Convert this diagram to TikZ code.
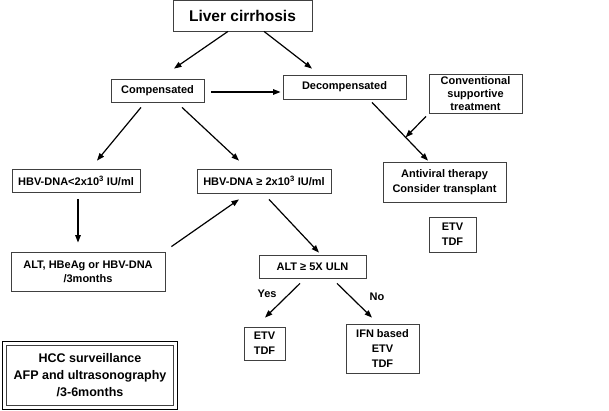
\documentclass[tikz,border=0pt]{standalone}
\usepackage{fontspec}
\setmainfont{Liberation Sans}
\usetikzlibrary{arrows.meta,calc}

\begin{document}
\begin{tikzpicture}[
  x=1pt,y=-1pt,
  >={Triangle[length=7.5pt,width=5.5pt]},
  box/.style = {draw=black!75,line width=0.8pt,align=center,inner sep=0pt,
    font=\bfseries\fontsize{11}{14}\selectfont},
  arr/.style = {->,line width=1.2pt},
  lbl/.style = {font=\bfseries\fontsize{11}{12}\selectfont}
  ]
  \useasboundingbox (0,0) rectangle (609,411);
  % Boxes
  \node[box,minimum width=139pt,minimum height=31pt,
    font=\bfseries\fontsize{15.5}{18}\selectfont] (liver) at (242.5,15.5) {Liver cirrhosis};
  \node[box,minimum width=93pt,minimum height=23pt] (comp) at (157.5,90.5) {Compensated};
  \node[box,minimum width=123pt,minimum height=24pt] (decomp) at (344.5,87) {Decompensated};
  \node[box,minimum width=93pt,minimum height=39pt,
    font=\bfseries\fontsize{11}{13}\selectfont] (conv) at (475.5,93.5) {Conventional\\supportive\\treatment};
  \node[box,minimum width=128pt,minimum height=23pt] (hbvlo) at (76,180.5) {HBV-DNA<2x10\textsuperscript{3} IU/ml};
  \node[box,minimum width=134pt,minimum height=24pt] (hbvhi) at (264,181) {HBV-DNA ≥ 2x10\textsuperscript{3} IU/ml};
  \node[box,minimum width=123pt,minimum height=40pt,
    font=\bfseries\fontsize{11}{15}\selectfont] (antiviral) at (444.5,182) {Antiviral therapy\\Consider transplant};
  \node[box,minimum width=47pt,minimum height=35pt,
    font=\bfseries\fontsize{11}{15}\selectfont] (drugsa) at (452.5,234.5) {ETV\\TDF};
  \node[box,minimum width=154pt,minimum height=39pt] (alt) at (88,271.5) {ALT, HBeAg or HBV-DNA\\/3months};
  \node[box,minimum width=107pt,minimum height=23pt] (altuln) at (312.5,266.5) {ALT ≥ 5X ULN};
  \node[box,minimum width=41pt,minimum height=33pt,
    font=\bfseries\fontsize{11}{15}\selectfont] (drugsb) at (264.5,343.5) {ETV\\TDF};
  \node[box,minimum width=73pt,minimum height=49pt,
    font=\bfseries\fontsize{11}{15}\selectfont] (ifn) at (382.5,348.5) {IFN based\\ETV\\TDF};
  \node[box,minimum width=166.4pt,minimum height=59.4pt,
    font=\bfseries\fontsize{12.5}{17}\selectfont] (hcc) at (90,375.5) {HCC surveillance\\AFP and ultrasonography\\/3-6months};
  \draw[line width=1.6pt] ($(hcc.north west)+(-4,-4)$) rectangle ($(hcc.south east)+(4,4)$);
  % Arrows
  \draw[arr] ($(liver.south)+(-14.5,0)$) -- ($(comp.north)+(16.5,-10)$);
  \draw[arr] ($(liver.south)+(21.5,0)$) -- ($(decomp.north)+(-32.5,-6)$);
  \draw[arr] ($(comp.east)+(7,1.5)$) -- ($(decomp.west)+(-2,5)$);
  \draw[arr] ($(comp.south)+(-16.5,5)$) -- ($(hbvlo.north)+(21,-8)$);
  \draw[arr] ($(comp.south)+(24.5,5)$) -- ($(hbvhi.north)+(-25,-8)$);
  \draw[arr] ($(decomp.south)+(27.5,3)$) -- coordinate[pos=0.6] (join)
    ($(antiviral.north)+(-16.5,-1)$);
  \draw[arr] ($(conv.south)+(-49.5,3)$) -- (join);
  \draw[arr] ($(hbvlo.south)+(2,7)$) -- ($(alt.north)+(-10,-9)$);
  \draw[arr] ($(alt.north east)+(6,-5)$) -- ($(hbvhi.south)+(-25,6)$);
  \draw[arr] ($(hbvhi.south)+(5,6)$) -- ($(altuln.north)+(6.5,-2)$);
  \draw[arr] ($(altuln.south)+(-12.5,5)$) -- ($(drugsb.north)+(0.5,-9)$);
  \draw[arr] ($(altuln.south)+(24.5,5)$) -- ($(ifn.north)+(-10.5,-6)$);
  % Labels
  \node[lbl] (yes) at (267,294) {Yes};
  \node[lbl] (no) at (377,297) {No};
\end{tikzpicture}
\end{document}
